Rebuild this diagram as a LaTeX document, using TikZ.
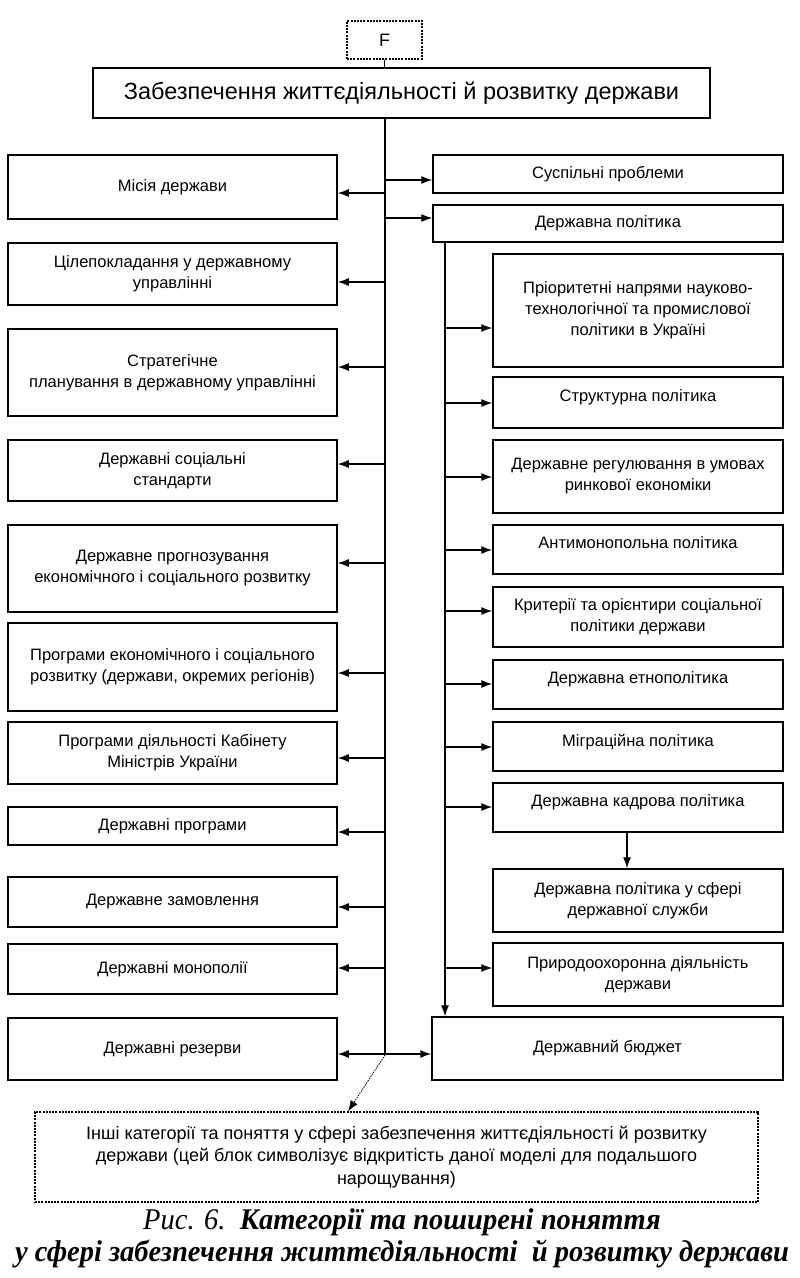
\documentclass[tikz,border=0pt]{standalone}
\usepackage{fontspec}
\setmainfont{Liberation Sans}
\newfontfamily\capfont{Liberation Serif}[FakeStretch=0.95]
\usetikzlibrary{arrows.meta}
\newcommand\mkbox[7][box]{\node[#1, minimum width={#5-#3}, minimum height={#6-#4}] (#2) at ({(#3+#5)/2},{(#4+#6)/2}) {#7};}
\begin{document}
\begin{tikzpicture}[x=1pt,y=-1pt,
  box/.style={draw, line width=1.5pt, align=center, inner sep=0pt, font=\fontsize{16.5}{21}\selectfont},
  upbox/.style={box, text depth=13pt},
  dbox/.style={draw, line width=1.1pt, dash pattern=on 2pt off 1.2pt, align=center, inner sep=0pt, font=\fontsize{18}{22.5}\selectfont},
  arr/.style={line width=1.2pt, -{Latex[length=11pt,width=8pt]}},
  conn/.style={line width=1.2pt}]
\useasboundingbox[fill=white] (0,0) rectangle (800,1278);

% top
\mkbox[dbox]{F}{347}{21}{422}{59}{\fontsize{18}{20}\selectfont F}
\mkbox{main}{93}{68}{710}{118}{\fontsize{23.5}{26}\selectfont Забезпечення життєдіяльності й розвитку держави}
\draw[conn] (F.south) -- (F.south |- main.north);

% left column
\mkbox{L1}{8}{155}{337}{219}{Місія держави}
\mkbox{L2}{8}{243}{337}{305}{Цілепокладання у державному\\управлінні}
\mkbox{L3}{8}{329}{337}{416}{Стратегічне\\планування в державному управлінні}
\mkbox{L4}{8}{440}{337}{501}{Державні соціальні\\стандарти}
\mkbox{L5}{8}{525}{337}{612}{Державне прогнозування\\економічного і соціального розвитку}
\mkbox{L6}{8}{623}{337}{711}{Програми економічного і соціального\\розвитку (держави, окремих регіонів)}
\mkbox{L7}{8}{722}{337}{784}{Програми діяльності Кабінету\\Міністрів України}
\mkbox{L8}{8}{807}{337}{845}{Державні програми}
\mkbox{L9}{8}{877}{337}{927}{Державне замовлення}
\mkbox{L10}{8}{944}{337}{994}{Державні монополії}
\mkbox{L11}{8}{1018}{337}{1080}{Державні резерви}

% right column
\mkbox{sp}{433}{155}{783}{193}{Суспільні проблеми}
\mkbox{dp}{433}{205}{783}{242}{Державна політика}
\mkbox{R1}{493}{254}{783}{367}{Пріоритетні напрями науково-\\технологічної та промислової\\політики в Україні}
\mkbox[upbox]{R2}{493}{377}{783}{428}{Структурна політика}
\mkbox{R3}{493}{440}{783}{513}{Державне регулювання в умовах\\ринкової економіки}
\mkbox[upbox]{R4}{493}{525}{783}{574}{Антимонопольна політика}
\mkbox{R5}{493}{587}{783}{647}{Критерії та орієнтири соціальної\\політики держави}
\mkbox[upbox]{R6}{493}{660}{783}{709}{Державна етнополітика}
\mkbox[upbox]{R7}{493}{722}{783}{771}{Міграційна політика}
\mkbox[upbox]{R8}{493}{783}{783}{832}{Державна кадрова політика}
\mkbox{R9}{493}{869}{783}{932}{Державна політика у сфері\\державної служби}
\mkbox{R10}{493}{943}{783}{1006}{Природоохоронна діяльність\\держави}
\mkbox{bud}{432}{1017}{783}{1080}{Державний бюджет}

% bottom
\mkbox[dbox]{bot}{35}{1112}{758}{1202}{Інші категорії та поняття у сфері забезпечення життєдіяльності й розвитку\\держави (цей блок символізує відкритість даної моделі для подальшого\\нарощування)}

\node[font=\capfont\fontsize{30}{32}\selectfont, align=center, inner sep=0pt] (cap) at (402,1238)
  {\itshape Рис. 6.\ \ \bfseries Категорії та поширені поняття\\
   \itshape\bfseries у сфері забезпечення життєдіяльності\ \ й розвитку держави};

% trunk
\coordinate (tk) at (385,1055);
\draw[conn] (main.south -| tk) -- (tk);
\foreach \n/\yy in {L1/193, L2/282, L3/367, L4/464, L5/563, L6/673, L7/758, L8/832, L9/907, L10/968}
  \draw[arr] (tk |- 0,\yy) -- (\n.east |- 0,\yy);
\draw[arr] (tk |- 0,180) -- (sp.west |- 0,180);
\draw[arr] (tk |- 0,218) -- (dp.west |- 0,218);
\draw[line width=1.2pt, {Latex[length=11pt,width=8pt]}-{Latex[length=11pt,width=8pt]}] (L11.east |- 0,1054) -- (bud.west |- 0,1054);
\draw[line width=0.8pt, dash pattern=on 1.5pt off 1pt, -{Latex[length=11pt,width=8pt]}] (tk) -- (348,0 |- bot.north);

% secondary line
\coordinate (sk) at (445,0);
\draw[arr] (dp.south -| sk) -- (bud.north -| sk);
\foreach \n/\yy in {R1/328, R2/403, R3/477, R4/550, R5/611, R6/684, R7/747, R8/807, R10/968}
  \draw[arr] (sk |- 0,\yy) -- (\n.west |- 0,\yy);
\draw[arr] (R8.south -| 627,0) -- (R9.north -| 627,0);
\end{tikzpicture}
\end{document}
